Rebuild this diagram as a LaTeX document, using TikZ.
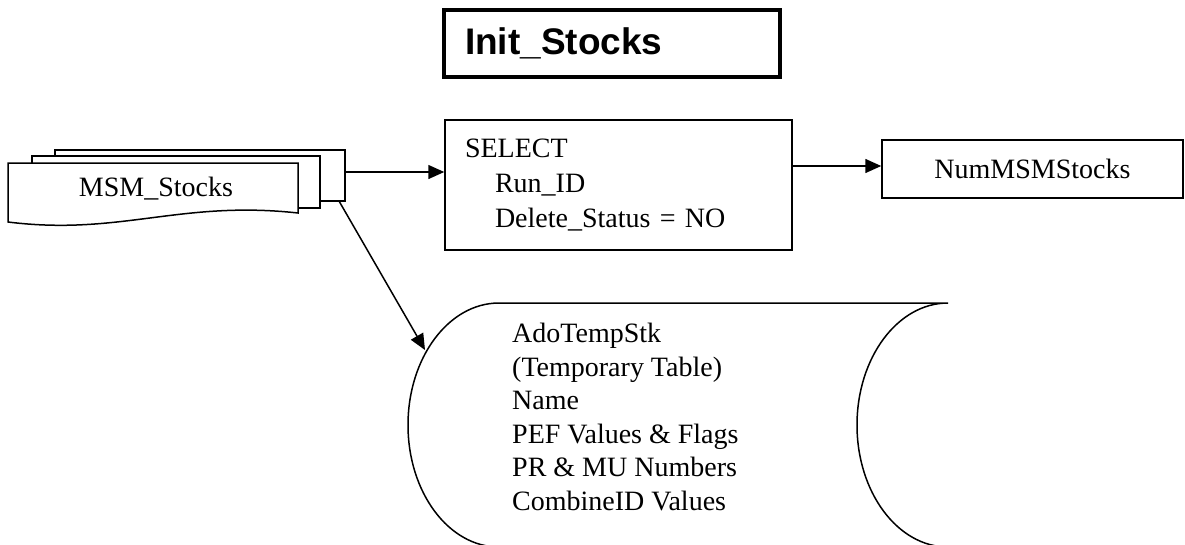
\documentclass[tikz,border=0pt]{standalone}
\usepackage{fontspec}
\setmainfont{Liberation Serif}
\setsansfont{Liberation Sans}
\usetikzlibrary{arrows.meta,positioning}

\begin{document}
\begin{tikzpicture}[
    x=1pt, y=-1pt,
    font=\fontsize{28}{34}\selectfont,
    sheet/.style={draw, line width=1.5pt, fill=white},
    procbox/.style={draw, line width=1.5pt, inner sep=0pt},
    flow/.style={-{Triangle[length=16pt, width=14pt]}, line width=1.5pt},
    listtext/.style={align=left, anchor=west, inner sep=0pt}
  ]
  \useasboundingbox (0,0) rectangle (1185,544);

  % Title
  \node[draw, line width=4pt, minimum width=336pt, minimum height=67pt,
        inner xsep=21pt, text width=294pt, align=left,
        font=\sffamily\bfseries\fontsize{37}{40}\selectfont] (title) at (612,43) {Init\_Stocks};

  % Stacked documents
  \draw[sheet] (55,150) rectangle (345,201);
  \draw[sheet] (32,156) rectangle (320,208);
  \draw[sheet] (8,163) -- (298,163) -- (298,213)
    .. controls (180,200) and (120,236) .. (8,222) -- cycle;
  \node (stocks) at (156,189) {MSM\_Stocks};
  \coordinate (stocks out) at (345,172);
  \coordinate (stocks corner) at (339,201);

  % Query
  \node[procbox, minimum width=347pt, minimum height=130pt,
        text width=307pt, align=left, inner xsep=20pt,
        font=\fontsize{28}{34.7}\selectfont] (select) at (618.5,185) {%
    SELECT\\
    \hspace*{30pt}Run\_ID\\
    \hspace*{30pt}Delete\_Status = NO};

  % Result
  \node[procbox, minimum width=301pt, minimum height=58pt] (count) at (1032.5,169) {NumMSMStocks};

  % Stored data
  \draw[line width=1.5pt] (948,303) -- (499,303)
    arc[start angle=-90, end angle=-270, x radius=91, y radius=122]
    -- (948,547)
    arc[start angle=90, end angle=270, x radius=91, y radius=122];
  \coordinate (temp in) at (425,350);
  \node[listtext, font=\fontsize{28}{33.5}\selectfont] (temp) at (512,417) {%
    AdoTempStk\\
    (Temporary Table)\\
    Name\\
    PEF Values \& Flags\\
    PR \& MU Numbers\\
    CombineID Values};

  % Connectors
  \draw[flow] (stocks out) -- (select.west |- stocks out);
  \draw[flow] (select.east |- 0,166) -- (count.west |- 0,166);
  \draw[flow] (stocks corner) -- (temp in);
\end{tikzpicture}
\end{document}
